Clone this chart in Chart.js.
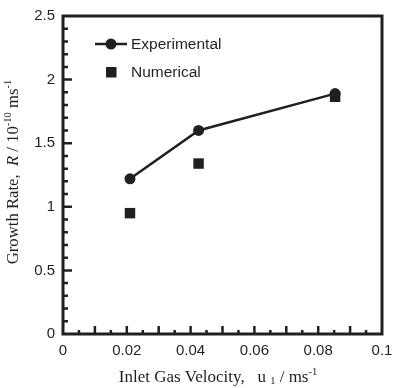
<!DOCTYPE html>
<html>
<head>
<meta charset="utf-8">
<script src="https://cdn.jsdelivr.net/npm/chart.js@4.4.1/dist/chart.umd.min.js"></script>
<style>
html, body { margin: 0; padding: 0; background: #fff; }
</style>
</head>
<body>
<canvas id="chart" width="396" height="388"></canvas>
<script>
// data
var velocity = [0.021, 0.0425, 0.0853];
var experimental = [1.22, 1.60, 1.89];
var numerical = [0.95, 1.34, 1.865];

var xTicks = [0, 0.02, 0.04, 0.06, 0.08, 0.1];
var xTickLabels = ['0', '0.02', '0.04', '0.06', '0.08', '0.1'];
var yTicks = [0, 0.5, 1, 1.5, 2, 2.5];
var yTickLabels = ['0', '0.5', '1', '1.5', '2', '2.5'];

var ink = '#231f20';
var sans = '"Liberation Sans", Arial, sans-serif';
var serif = '"Liberation Serif", "Times New Roman", serif';

function pairs(xs, ys) {
    return xs.map(function(x, i) { return { x: x, y: ys[i] }; });
}

// draws text made of pieces (for sub/superscripts), centred on 0
function richText(ctx, parts) {
    var w = 0;
    parts.forEach(function(p) { ctx.font = p.font; w += ctx.measureText(p.t).width; });
    var x = -w / 2;
    parts.forEach(function(p) {
        ctx.font = p.font;
        ctx.fillText(p.t, x, p.dy || 0);
        x += ctx.measureText(p.t).width;
    });
}

var decor = {
    id: 'decor',
    afterDraw: function(chart) {
        var ctx = chart.ctx;
        var a = chart.chartArea;
        var xs = chart.scales.x, ys = chart.scales.y;
        ctx.save();
        ctx.strokeStyle = ink;
        ctx.fillStyle = ink;

        // inward ticks
        ctx.lineWidth = 2.5;
        ctx.beginPath();
        for (var i = 1; i < 25; i++) {
            var py = ys.getPixelForValue(i / 10);
            var len = (i % 5 === 0) ? 9 : 5;
            ctx.moveTo(a.left, py);
            ctx.lineTo(a.left + len, py);
        }
        for (var j = 1; j < 20; j++) {
            var px = xs.getPixelForValue(j * 0.005);
            var l2 = (j % 2 === 0) ? 8 : 4;
            ctx.moveTo(px, a.bottom);
            ctx.lineTo(px, a.bottom - l2);
        }
        ctx.stroke();

        // frame
        ctx.lineWidth = 3;
        ctx.strokeRect(a.left, a.top, a.right - a.left, a.bottom - a.top);

        // legend
        ctx.lineWidth = 2.5;
        ctx.beginPath();
        ctx.moveTo(95, 44);
        ctx.lineTo(127, 44);
        ctx.stroke();
        ctx.beginPath();
        ctx.arc(111, 44, 5.5, 0, Math.PI * 2);
        ctx.fill();
        ctx.fillRect(106, 67, 10.5, 10.5);
        ctx.font = '15.5px ' + sans;
        ctx.textBaseline = 'middle';
        ctx.textAlign = 'left';
        ctx.fillText('Experimental', 131, 45);
        ctx.fillText('Numerical', 131, 73);

        // axis titles
        ctx.textBaseline = 'alphabetic';
        var big = '16.7px ' + serif, small = '10.5px ' + serif;
        ctx.save();
        ctx.translate(18, 172);
        ctx.rotate(-Math.PI / 2);
        richText(ctx, [
            { t: 'Growth Rate,  ', font: big },
            { t: 'R', font: 'italic ' + big },
            { t: ' / 10', font: big },
            { t: '-10', font: small, dy: -7 },
            { t: ' ms', font: big },
            { t: '-1', font: small, dy: -7 }
        ]);
        ctx.restore();

        var bigX = '17px ' + serif;
        ctx.save();
        ctx.translate(218, 382);
        richText(ctx, [
            { t: 'Inlet Gas Velocity,   u ', font: bigX },
            { t: '1', font: small, dy: 2 },
            { t: ' / ms', font: bigX },
            { t: '-1', font: small, dy: -7 }
        ]);
        ctx.restore();

        ctx.restore();
    }
};

var ctx = document.getElementById('chart').getContext('2d');
var chart = new Chart(ctx, {
    type: 'scatter',
    data: {
        datasets: [{
            label: 'Experimental',
            data: pairs(velocity, experimental),
            showLine: true,
            borderColor: ink,
            backgroundColor: ink,
            borderWidth: 2.5,
            pointBorderWidth: 0,
            pointStyle: 'circle',
            pointRadius: 5.5,
            pointHoverRadius: 5.5
        }, {
            label: 'Numerical',
            data: pairs(velocity, numerical),
            borderColor: ink,
            backgroundColor: ink,
            borderWidth: 0,
            pointBorderWidth: 0,
            pointStyle: 'rect',
            pointRadius: 7.4,
            pointHoverRadius: 7.4
        }]
    },
    options: {
        responsive: false,
        animation: false,
        devicePixelRatio: 1,
        layout: { padding: { top: 16, right: 14, left: 0, bottom: 0 } },
        plugins: { legend: { display: false }, tooltip: { enabled: false } },
        scales: {
            x: {
                type: 'linear',
                min: 0,
                max: 0.1,
                grid: { display: false, drawTicks: false },
                border: { display: false },
                afterBuildTicks: function(s) { s.ticks = xTicks.map(function(v) { return { value: v }; }); },
                afterFit: function(s) { s.height = 54; s.paddingLeft = 0; s.paddingRight = 0; },
                ticks: {
                    autoSkip: false,
                    maxRotation: 0,
                    padding: 8,
                    color: ink,
                    font: { family: sans, size: 15 },
                    callback: function(v, i) { return xTickLabels[i]; }
                }
            },
            y: {
                type: 'linear',
                min: 0,
                max: 2.5,
                grid: { display: false, drawTicks: false },
                border: { display: false },
                afterBuildTicks: function(s) { s.ticks = yTicks.map(function(v) { return { value: v }; }); },
                afterFit: function(s) { s.width = 63; s.paddingTop = 0; s.paddingBottom = 0; },
                ticks: {
                    autoSkip: false,
                    padding: 8,
                    color: ink,
                    font: { family: sans, size: 15 },
                    callback: function(v, i) { return yTickLabels[i]; }
                }
            }
        }
    },
    plugins: [decor]
});
</script>
</body>
</html>
